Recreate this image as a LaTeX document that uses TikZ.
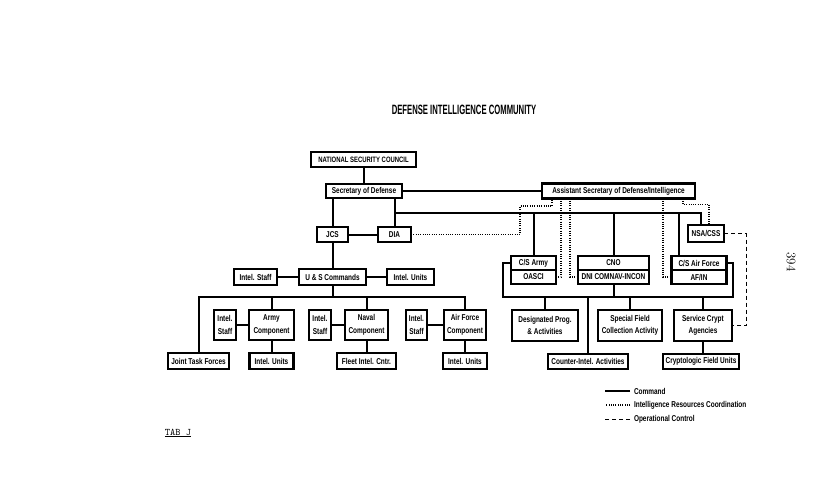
\documentclass[tikz,border=0pt]{standalone}
\usepackage{fontspec}
\usepackage{tikz}
\newfontfamily\orgfont{Liberation Sans}[FakeStretch=0.76]
\newfontfamily\titlefont{Liberation Sans}[FakeStretch=0.57]

\begin{document}
\begin{tikzpicture}[x=1pt, y=-1pt]
    % cmd = command, irc = intel. resources coordination, opc = operational control
    \tikzstyle{every node}=[font=\orgfont\bfseries\fontsize{8.5}{12.5}\selectfont, inner sep=0pt, outer sep=0pt, align=center]
    \tikzstyle{box}=[draw=black, line width=2.5pt, rectangle]
    \tikzstyle{half}=[box, minimum height=14pt, node distance=14pt]
    \tikzstyle{cmd}=[black, line width=2pt]
    \tikzstyle{irc}=[black, line width=1.2pt, dash pattern=on 0.8pt off 1.5pt]
    \tikzstyle{opc}=[black, line width=0.9pt, dash pattern=on 4pt off 3pt]
    \fill[white] (0,0) rectangle (830,496);
    \useasboundingbox (0,0) rectangle (830,496);

    \node (title) at (464,110) {\titlefont\fontsize{13.5}{15}\selectfont DEFENSE INTELLIGENCE COMMUNITY};

    \node[box, minimum width=105pt, minimum height=15pt] (nsc) at (363.5,159.5) {\fontsize{7.8}{9}\selectfont NATIONAL SECURITY COUNCIL};
    \node[box, minimum width=76pt, minimum height=14pt] (secdef) at (364,191) {Secretary of Defense};
    \node[box, minimum width=153pt, minimum height=15pt] (asd) at (618.5,191) {Assistant Secretary of Defense/Intelligence};
    \node[box, minimum width=31pt, minimum height=15pt] (jcs) at (332.5,234.5) {JCS};
    \node[box, minimum width=33pt, minimum height=15pt] (dia) at (394.5,234.5) {DIA};
    \node[box, minimum width=36pt, minimum height=17pt] (nsa) at (706,233.5) {NSA/CSS};

    % unified & specified commands
    \node[box, minimum width=67pt, minimum height=16pt] (usc) at (332.5,277) {U \& S Commands};
    \node[box, minimum width=43pt, minimum height=16pt] (ustaff) at (255.5,277) {Intel. Staff};
    \node[box, minimum width=47pt, minimum height=16pt] (uunits) at (410.5,277) {Intel. Units};
    \node[box, minimum width=45pt, minimum height=30pt] (armyc) at (271.5,325) {Army\\Component};
    \node[box, minimum width=22pt, minimum height=30pt] (armys) at (225,325) {Intel.\\Staff};
    \node[box, minimum width=43pt, minimum height=30pt] (navalc) at (366.5,325) {Naval\\Component};
    \node[box, minimum width=22pt, minimum height=30pt] (navals) at (320,325) {Intel.\\Staff};
    \node[box, minimum width=42pt, minimum height=30pt] (afc) at (465,325) {Air Force\\Component};
    \node[box, minimum width=21pt, minimum height=30pt] (afs) at (416.5,325) {Intel.\\Staff};
    \node[box, minimum width=61pt, minimum height=16pt] (jtf) at (198.5,361) {Joint Task Forces};
    \node[box, minimum width=44pt, minimum height=16pt] (armyu) at (271.5,361) {Intel. Units};
    \node[box, minimum width=59pt, minimum height=16pt] (fleet) at (366.5,361) {Fleet Intel. Cntr.};
    \node[box, minimum width=44pt, minimum height=16pt] (afu) at (465,361) {Intel. Units};

    % services
    \node[half, minimum width=45pt] (csarmy) at (533.5,263) {C/S Army};
    \node[half, minimum width=45pt, below of = csarmy] (oasci) {OASCI};
    \node[half, minimum width=71pt] (cno) at (613.5,263) {CNO};
    \node[half, minimum width=71pt, below of = cno] (dni) {DNI COMNAV-INCON};
    \node[half, minimum width=55pt] (csaf) at (699,263) {C/S Air Force};
    \node[half, minimum width=55pt, below of = csaf] (afin) {AF/IN};
    \node[box, minimum width=66pt, minimum height=31pt] (desig) at (545,325.5) {Designated Prog.\\\& Activities};
    \node[box, minimum width=64pt, minimum height=31pt] (special) at (630,325.5) {Special Field\\Collection Activity};
    \node[box, minimum width=58pt, minimum height=31pt] (crypt) at (703,325.5) {Service Crypt\\Agencies};
    \node[box, minimum width=80pt, minimum height=15pt] (counter) at (588,361.5) {Counter-Intel. Activities};
    \node[box, minimum width=76pt, minimum height=15pt] (cfu) at (701,361.5) {Cryptologic Field Units};

    % command lines
    \draw[cmd] (nsc.south) -- (nsc.south |- secdef.north);
    \draw[cmd] (secdef.east) -- (secdef.east -| asd.west);
    \draw[cmd] (jcs.north) -- (jcs.north |- secdef.south);
    \draw[cmd] (dia.north) -- (dia.north |- secdef.south);
    \draw[cmd] (jcs) -- (dia);
    \coordinate (dbus) at (394.5,213);
    \draw[cmd] (dbus) -| ([xshift=-5pt]nsa.north);
    \draw[cmd] (csarmy.north) -- (csarmy.north |- dbus);
    \draw[cmd] (cno.north) -- (cno.north |- dbus);
    \draw[cmd] ([xshift=-20pt]csaf.north) -- ([xshift=-20pt]csaf.north |- dbus);
    \coordinate (rbl) at (503,297);
    \coordinate (rbr) at (733,297);
    \draw[cmd] (csarmy.west) -| (rbl) -- (rbr) |- (csaf.east);
    \draw[cmd] (dni.south) -- (dni.south |- rbl);
    \draw[cmd] (desig.north) -- (desig.north |- rbl);
    \draw[cmd] (special.north) -- (special.north |- rbl);
    \draw[cmd] (crypt.north) -- (crypt.north |- rbl);
    \draw[cmd] (counter.north) -- (counter.north |- rbl);
    \draw[cmd] (crypt.south) -- (crypt.south |- cfu.north);

    \draw[cmd] (jcs.south) -- (usc.north);
    \draw[cmd] (ustaff) -- (usc);
    \draw[cmd] (usc) -- (uunits);
    \coordinate (lbus) at (332.5,297);
    \draw[cmd] (usc.south) -- (lbus);
    \draw[cmd] (jtf.north) |- (lbus) -| (afc.north);
    \draw[cmd] (armyc.north) -- (armyc.north |- lbus);
    \draw[cmd] (navalc.north) -- (navalc.north |- lbus);
    \draw[cmd] (armys) -- (armyc);
    \draw[cmd] (navals) -- (navalc);
    \draw[cmd] (afs) -- (afc);
    \draw[cmd] (armyc) -- (armyu);
    \draw[cmd] (navalc) -- (fleet);
    \draw[cmd] (afc) -- (afu);

    % coordination lines
    \draw[irc] (dia.east) -| (520,206) -| ([xshift=-66.5pt]asd.south);
    \draw[irc] ([xshift=-57.5pt]asd.south) |- (oasci.east);
    \draw[irc] ([xshift=-48.5pt]asd.south) |- (dni.west);
    \draw[irc] ([xshift=44.5pt]asd.south) |- (afin.west);
    \draw[irc] ([xshift=64.5pt]asd.south) -- ++(0,6) -| ([xshift=3pt]nsa.north);

    % operational control
    \draw[opc] (nsa.east) -- ++(22,0) |- (crypt.east);

    % legend
    \node[anchor=west] (lcmd) at (634,391) {Command};
    \node[anchor=west] (lirc) at (634,405) {Intelligence Resources Coordination};
    \node[anchor=west] (lopc) at (634,419) {Operational Control};
    \draw[cmd] ([xshift=-4pt]lcmd.west) -- ++(-25,0);
    \draw[irc] ([xshift=-4pt]lirc.west) -- ++(-25,0);
    \draw[opc] ([xshift=-4pt]lopc.west) -- ++(-25,0);

    \node (tab) at (178,433) {\normalfont\ttfamily\fontsize{10}{12}\selectfont\underline{TAB J}};
    \node[rotate=-90] (page) at (791,262) {\normalfont\fontsize{13}{15}\selectfont 394};
\end{tikzpicture}
\end{document}
